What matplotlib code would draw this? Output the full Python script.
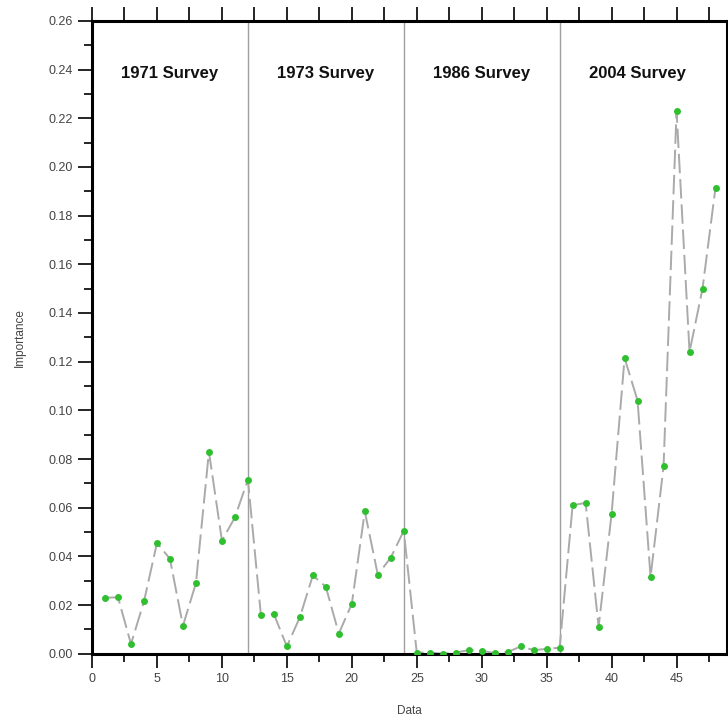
import numpy as np
import matplotlib
matplotlib.use('Agg')
import matplotlib.pyplot as plt
from matplotlib.ticker import MultipleLocator

plt.rcParams['font.family'] = ['Liberation Sans', 'DejaVu Sans']

# data
x = list(range(1, 49))
importance = [
    0.0230, 0.0232, 0.0040, 0.0215, 0.0455, 0.0390, 0.0115, 0.0290, 0.0830, 0.0465, 0.0560, 0.0715,
    0.0160, 0.0163, 0.0030, 0.0150, 0.0322, 0.0275, 0.0083, 0.0205, 0.0585, 0.0325, 0.0395, 0.0505,
    0.0005, 0.0005, 0.0000, 0.0005, 0.0015, 0.0012, 0.0003, 0.0007, 0.0030, 0.0015, 0.0020, 0.0025,
    0.0610, 0.0620, 0.0110, 0.0575, 0.1215, 0.1040, 0.0315, 0.0770, 0.2230, 0.1240, 0.1500, 0.1915,
]
survey_names = ['1971 Survey', '1973 Survey', '1986 Survey', '2004 Survey']
survey_breaks = [12, 24, 36]
survey_centers = [6, 18, 30, 42]

fig = plt.figure(figsize=(7.28, 7.20), dpi=100)
ax = fig.add_axes([0.1264, 0.092, 0.8725, 0.879])

for b in survey_breaks:
    ax.axvline(b, color='#a0a0a0', lw=1.0, zorder=1)

ax.plot(x, importance, color='#aaaaaa', lw=1.4, dashes=(10, 3), zorder=2)
ax.plot(x, importance, 'o', color='#2fbf2f', markersize=5, markeredgewidth=0, zorder=3)

for name, cx in zip(survey_names, survey_centers):
    ax.text(cx, 0.2385, name, ha='center', va='center', fontsize=12, fontweight='bold', color='#111111')

ax.set_xlim(0, 48.9)
ax.set_ylim(0, 0.26)
ax.xaxis.set_major_locator(MultipleLocator(5))
ax.xaxis.set_minor_locator(MultipleLocator(2.5))
ax.yaxis.set_major_locator(MultipleLocator(0.02))
ax.yaxis.set_minor_locator(MultipleLocator(0.01))
ax.yaxis.set_major_formatter(plt.FuncFormatter(lambda v, p: f'{v:.2f}'))

ax.tick_params(which='major', direction='out', length=10, width=1.2, labelsize=9, labelcolor='#444444', pad=4)
ax.tick_params(which='minor', direction='out', length=6, width=1.2)

top = ax.secondary_xaxis('top')
top.xaxis.set_major_locator(MultipleLocator(2.5))
top.tick_params(which='major', direction='out', length=10, width=1.2, labeltop=False)
top.tick_params(which='minor', length=0)
top.spines['top'].set_visible(False)

for s in ax.spines.values():
    s.set_linewidth(2.2)
    s.set_color('black')

ax.set_xlabel('Data', fontsize=8.5, color='#444444', labelpad=14)
ax.set_ylabel('Importance', fontsize=8.5, color='#444444', labelpad=16)

fig.savefig('out.png', dpi=100)
